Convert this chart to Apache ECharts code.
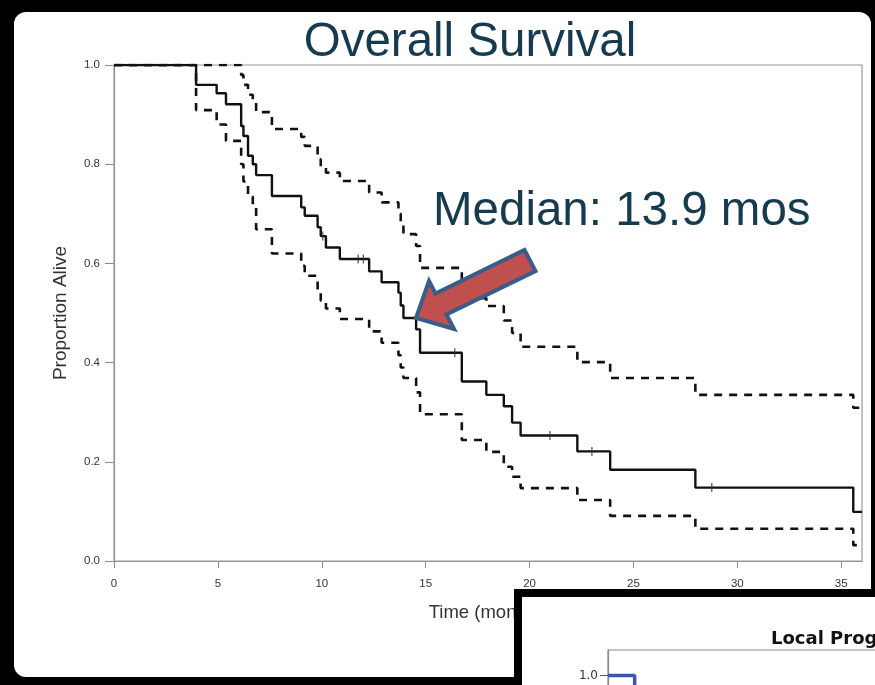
<!DOCTYPE html>
<html>
<head>
<meta charset="utf-8">
<script src="https://cdn.jsdelivr.net/npm/echarts@6/dist/echarts.min.js"></script>
<style>
  html, body { margin: 0; padding: 0; background: #000; }
  #chart { width: 875px; height: 685px; }
</style>
</head>
<body>
<div id="chart"></div>
<script>
// Kaplan-Meier estimate of overall survival (months) with 95% confidence band
const kmTime = [0, 3.95, 4.94, 5.39, 6.12, 6.23, 6.45, 6.68, 6.84, 7.6, 9.01, 9.18, 9.8, 9.95, 10.2, 10.87,
  12.28, 12.88, 13.69, 13.8, 13.93, 14.54, 14.73, 16.74, 17.92, 18.76, 19.16, 19.57, 22.3, 23.88, 27.98, 35.58, 36];
const survival = [1, 0.96, 0.943, 0.921, 0.877, 0.857, 0.817, 0.8, 0.778, 0.736, 0.713, 0.696, 0.673, 0.655, 0.632, 0.609,
  0.584, 0.562, 0.541, 0.515, 0.49, 0.467, 0.42, 0.362, 0.335, 0.312, 0.279, 0.253, 0.221, 0.184, 0.148, 0.099, 0.099];
const upperCI = [1, 1, 1, 1, 0.98, 0.96, 0.94, 0.925, 0.905, 0.871, 0.855, 0.837, 0.81, 0.795, 0.783, 0.766,
  0.743, 0.723, 0.7, 0.68, 0.659, 0.635, 0.591, 0.53, 0.514, 0.485, 0.46, 0.432, 0.401, 0.369, 0.335, 0.309, 0.309];
const lowerCI = [1, 0.909, 0.88, 0.847, 0.8, 0.765, 0.735, 0.716, 0.669, 0.62, 0.595, 0.575, 0.545, 0.525, 0.509, 0.488,
  0.463, 0.44, 0.415, 0.39, 0.369, 0.34, 0.296, 0.244, 0.22, 0.19, 0.17, 0.147, 0.123, 0.091, 0.065, 0.032, 0.032];

// censored observations
const censorTime = [10.05, 11.75, 12.0, 16.4, 20.98, 23.0, 28.77];
const censorSurv = [0.655, 0.609, 0.609, 0.42, 0.253, 0.221, 0.148];

const xTicks = [0, 5, 10, 15, 20, 25, 30, 35];

// second panel: local progression-free curve (only its upper-left corner shows)
const localTime = [0, 4];
const localFree = [1.0, 0.92];

const zip = (a, b) => a.map((v, i) => [v, b[i]]);

const chart = echarts.init(document.getElementById('chart'), null, { renderer: 'canvas' });

const FONT = '"Liberation Sans", Arial, Helvetica, sans-serif';
const NAVY = '#163a4e';

const option = {
  backgroundColor: '#000',
  animation: false,
  grid: [
    { left: 114, top: 65, width: 748, height: 496, outerBoundsMode: 'none',
      show: true, borderColor: '#9a9a9a', borderWidth: 1.2, z: 2 },
    { left: 608, top: 650, width: 400, height: 280, outerBoundsMode: 'none',
      show: true, borderColor: '#8a8a8a', borderWidth: 1.2, backgroundColor: '#fff', z: 60 }
  ],
  xAxis: [
    {
      gridIndex: 0, type: 'value', min: 0, max: 36, interval: 5,
      name: 'Time (months)', nameLocation: 'middle', nameGap: 42,
      nameTextStyle: { fontFamily: FONT, fontSize: 18.5, color: '#333' },
      axisLine: { show: true, lineStyle: { color: '#8a8a8a', width: 1.2 } },
      axisTick: { show: true, length: 7, lineStyle: { color: '#8a8a8a' }, customValues: xTicks },
      axisLabel: { margin: 17, fontFamily: FONT, fontSize: 11.5, color: '#333', customValues: xTicks },
      splitLine: { show: false }
    },
    {
      gridIndex: 1, type: 'value', min: 0, max: 60, show: false, z: 60
    }
  ],
  yAxis: [
    {
      gridIndex: 0, type: 'value', min: 0, max: 1, interval: 0.2,
      name: 'Proportion Alive', nameLocation: 'middle', nameGap: 44,
      nameTextStyle: { fontFamily: FONT, fontSize: 19, color: '#333' },
      axisLine: { show: true, lineStyle: { color: '#8a8a8a', width: 1.2 } },
      axisTick: { show: true, length: 9, lineStyle: { color: '#8a8a8a' } },
      axisLabel: { margin: 14, fontFamily: FONT, fontSize: 11.5, color: '#333', formatter: v => v.toFixed(1) },
      splitLine: { show: false }
    },
    {
      gridIndex: 1, type: 'value', min: 0, max: 1.1, z: 60,
      axisLine: { show: true, lineStyle: { color: '#8a8a8a', width: 1.2 } },
      axisTick: { show: true, length: 8, lineStyle: { color: '#555' }, customValues: [1.0] },
      axisLabel: { margin: 10, fontFamily: '"DejaVu Sans", sans-serif', fontSize: 12, color: '#333',
        customValues: [1.0], formatter: v => v.toFixed(1) },
      splitLine: { show: false }
    }
  ],
  series: [
    {
      type: 'line', xAxisIndex: 0, yAxisIndex: 0, step: 'end', showSymbol: false,
      data: zip(kmTime, upperCI),
      lineStyle: { color: '#111', width: 2.6, type: [8, 7] }, z: 3
    },
    {
      type: 'line', xAxisIndex: 0, yAxisIndex: 0, step: 'end', showSymbol: false,
      data: zip(kmTime, lowerCI),
      lineStyle: { color: '#111', width: 2.6, type: [8, 7] }, z: 3
    },
    {
      type: 'line', xAxisIndex: 0, yAxisIndex: 0, step: 'end', showSymbol: false,
      data: zip(kmTime, survival),
      lineStyle: { color: '#111', width: 2.4 }, z: 4
    },
    {
      type: 'scatter', xAxisIndex: 0, yAxisIndex: 0,
      data: zip(censorTime, censorSurv),
      symbol: 'rect', symbolSize: [1.3, 9],
      itemStyle: { color: '#333' }, z: 5
    },
    {
      type: 'line', xAxisIndex: 1, yAxisIndex: 1, step: 'end', showSymbol: false,
      data: zip(localTime, localFree),
      lineStyle: { color: '#3b56b0', width: 3.5 }, z: 61
    }
  ],
  graphic: [
    // slide page
    { type: 'rect', z: -10, shape: { x: 14, y: 12, width: 857, height: 665, r: 12 }, style: { fill: '#fff' } },
    // title
    { type: 'text', z: 100, x: 470, y: 43,
      style: { text: 'Overall Survival', font: '47.5px ' + FONT, fill: NAVY, textAlign: 'center', textVerticalAlign: 'middle' } },
    // median annotation
    { type: 'text', z: 100, x: 433, y: 212,
      style: { text: 'Median: 13.9 mos', font: '47.5px ' + FONT, fill: NAVY, textAlign: 'left', textVerticalAlign: 'middle' } },
    // arrow pointing at the median
    { type: 'polygon', z: 100,
      shape: { points: [[416, 318], [429, 281], [435.5, 293.5], [524.5, 250], [535.5, 271], [446.5, 314.5], [454, 329]] },
      style: { fill: '#c0504d', stroke: '#385d8a', lineWidth: 4, lineJoin: 'miter' } },
    // second panel frame
    { type: 'rect', z: 50, shape: { x: 518, y: 593, width: 420, height: 200 },
      style: { fill: '#fff', stroke: '#000', lineWidth: 8 } },
    { type: 'text', z: 100, x: 771, y: 648,
      style: { text: 'Local Progression', font: 'bold 18px "DejaVu Sans", sans-serif', fill: '#111', textAlign: 'left', textVerticalAlign: 'bottom' } }
  ]
};

chart.setOption(option);
</script>
</body>
</html>
